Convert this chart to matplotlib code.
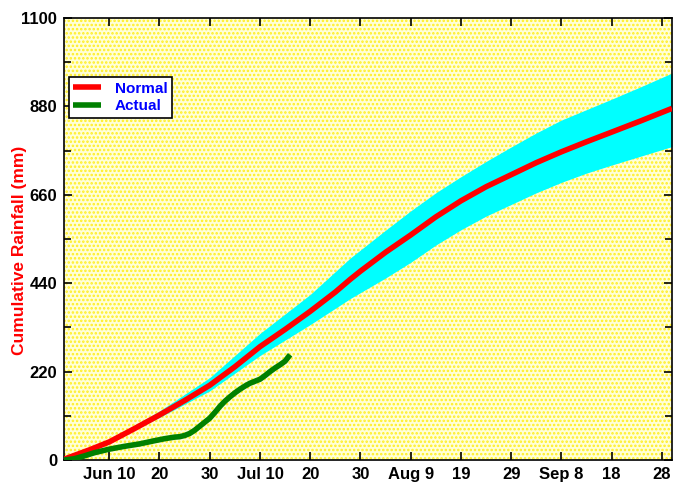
import numpy as np
import matplotlib.pyplot as plt
from matplotlib.patches import Rectangle

plt.rcParams['font.family'] = ['Liberation Sans', 'DejaVu Sans']
plt.rcParams['font.weight'] = 'bold'
plt.rcParams['hatch.linewidth'] = 1.2

# days counted from Jun 1 (day 0)
normal_days = [0, 5, 9, 14, 19, 24, 29, 34, 39, 44, 49, 54, 57, 59, 64, 69, 74, 79,
               84, 89, 94, 99, 104, 109, 115, 121]
normal_mm = [2, 25, 45, 78, 112, 148, 186, 232, 282, 325, 370, 418, 450, 470, 517, 560,
             605, 645, 680, 710, 740, 767, 792, 816, 845, 875]

band_days = [0, 9, 19, 29, 39, 49, 57, 64, 69, 74, 79, 84, 89, 94, 99, 104, 109, 115, 121]
upper_mm = [2, 50, 122, 205, 315, 412, 503, 572, 620, 665, 705, 743, 779, 814, 846, 872,
            898, 930, 963]
lower_mm = [2, 44, 106, 172, 260, 337, 402, 453, 492, 535, 573, 607, 636, 665, 691, 714,
            734, 757, 780]

actual_days = [0, 2, 4, 6, 9, 12, 15, 18, 20, 22, 23, 24, 25, 26, 27, 28, 29, 30, 31, 32,
               33, 34, 35, 36, 37, 38, 39, 40, 41, 42, 43, 44, 45]
actual_mm = [0, 3, 10, 18, 27, 34, 40, 48, 53, 57, 58, 61, 66, 74, 84, 94, 104, 118, 133,
             146, 157, 167, 176, 184, 191, 196, 201, 210, 220, 229, 237, 246, 262]

tick_days = [9, 19, 29, 39, 49, 59, 69, 79, 89, 99, 109, 119]
tick_labels = ['Jun 10', '20', '30', 'Jul 10', '20', '30', 'Aug 9', '19', '29', 'Sep 8', '18', '28']
y_ticks = [0, 220, 440, 660, 880, 1100]

fig = plt.figure(figsize=(6.83, 4.82), dpi=100)
ax = fig.add_axes([0.0937, 0.0456, 0.8902, 0.9171])

# dotted yellow background
ax.set_facecolor('white')
ax.add_patch(Rectangle((0, 0), 1, 1, transform=ax.transAxes, facecolor='#ffffd8',
                       edgecolor='#ffee20', hatch='....', linewidth=0, zorder=0))

ax.fill_between(band_days, lower_mm, upper_mm, color='#00ffff', linewidth=0, zorder=2)
ax.plot(normal_days, normal_mm, color='#ff0000', lw=4, label='Normal', zorder=3,
        solid_capstyle='butt', solid_joinstyle='round')
ax.plot(actual_days, actual_mm, color='#008000', lw=4, label='Actual', zorder=4,
        solid_capstyle='butt', solid_joinstyle='round')

ax.set_xlim(0, 121)
ax.set_ylim(0, 1100)
ax.set_xticks(tick_days)
ax.set_xticklabels(tick_labels, fontsize=12, fontweight='bold')
ax.set_yticks(y_ticks)
ax.set_yticklabels([str(v) for v in y_ticks], fontsize=12, fontweight='bold')
ax.set_yticks(np.arange(110, 1100, 220), minor=True)
ax.tick_params(axis='both', which='both', direction='in', top=True, right=True, width=1.2)
ax.tick_params(axis='both', which='major', length=6, pad=5)
ax.tick_params(axis='y', which='minor', length=5)
fig.text(20 / 683, 1 - 250 / 482, 'Cumulative Rainfall (mm)', rotation=90, color='#ff0000',
         fontsize=12.5, fontweight='bold', ha='center', va='center')
for s in ax.spines.values():
    s.set_linewidth(1.2)

leg = ax.legend(loc='upper left', bbox_to_anchor=(0.008, 0.866), fancybox=False,
                framealpha=1, edgecolor='black', fontsize=11, handlelength=1.8,
                borderpad=0.3, labelspacing=0.22, handletextpad=0.9, borderaxespad=0)
leg.get_frame().set_linewidth(1.2)
for t in leg.get_texts():
    t.set_color('#0000ff')
    t.set_fontweight('bold')

fig.savefig('out.png', dpi=100)
